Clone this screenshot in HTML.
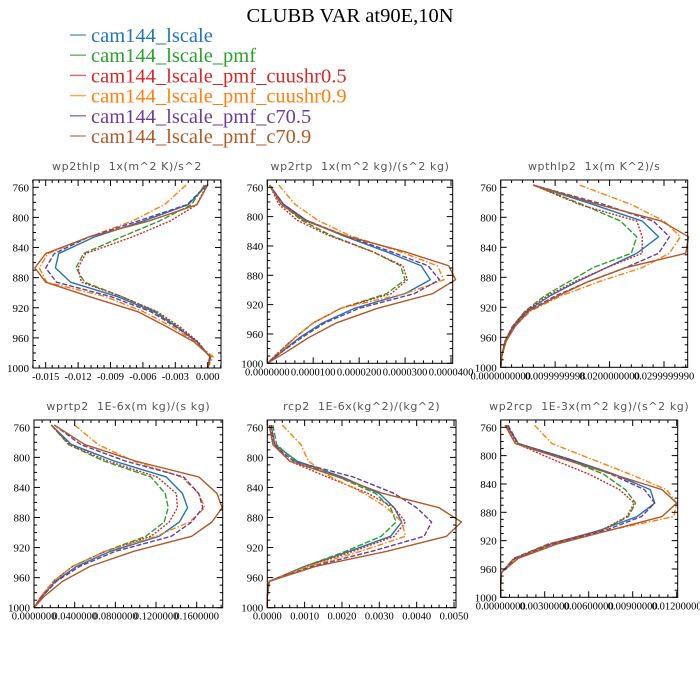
<!DOCTYPE html>
<html><head><meta charset="utf-8">
<style>
html,body{margin:0;padding:0;background:#fff;}
svg{display:block;}
</style></head>
<body>
<svg id="chart" width="700" height="700" viewBox="0 0 700 700" xmlns="http://www.w3.org/2000/svg">
<text x="350" y="22" text-anchor="middle" font-family="Liberation Serif, serif" font-size="20.5">CLUBB VAR at90E,10N</text>
<g id="legend"></g>
<g id="panels"></g>
</svg>
<script>
// ---- data ----
const seriesNames = ["cam144_lscale","cam144_lscale_pmf","cam144_lscale_pmf_cuushr0.5","cam144_lscale_pmf_cuushr0.9","cam144_lscale_pmf_c70.5","cam144_lscale_pmf_c70.9"];
const levels = [757,783,805,826,848,867,886,905,925,945,965,985,1000];

const wp2thlp = [ // x1e-3
 [-0.1,-1.8,-6,-10.5,-13.8,-14.1,-12.7,-8.4,-5.0,-2.9,-1.0,0.2,0],
 [-0.3,-1.5,-4.5,-8,-11.5,-12.2,-11.4,-8,-4.8,-2.8,-1.0,0.2,0],
 [-0.1,-1.0,-3.5,-7,-11.3,-12.0,-11.7,-8,-4.7,-2.6,-0.9,0.2,0],
 [-2.0,-4,-7,-11,-14.8,-15.6,-14.9,-9.5,-6,-3.3,-1.2,0.5,0],
 [-0.1,-1.9,-6.5,-11,-14.2,-15.0,-14.0,-9.0,-5.3,-3.0,-1.0,0.2,0],
 [0,-1.0,-5.5,-11,-15.0,-16.0,-15.0,-11,-6.5,-3.8,-1.3,0.3,0]];
const wp2rtp = [ // x1e-5
 [0.05,0.35,0.85,1.65,2.6,3.35,3.55,3.0,1.9,1.2,0.7,0.3,0],
 [0.05,0.3,0.75,1.4,2.3,2.9,3.0,2.6,1.6,1.0,0.6,0.25,0],
 [0.05,0.25,0.65,1.35,2.3,2.95,3.05,2.7,1.6,1.0,0.6,0.25,0],
 [0.25,0.6,1.1,1.8,2.9,3.7,3.85,3.0,1.6,1.0,0.6,0.3,0],
 [0.05,0.35,0.85,1.7,2.7,3.5,3.75,3.2,2.0,1.25,0.75,0.3,0],
 [0.05,0.3,0.8,1.7,3.0,3.95,4.1,3.6,2.4,1.5,0.9,0.4,0]];
const wpthlp2 = [ // x1e-2
 [0.6,1.7,2.6,2.9,2.5,1.95,1.4,0.9,0.48,0.23,0.08,0.02,0],
 [0.6,1.5,2.2,2.5,2.4,1.7,1.25,0.8,0.45,0.22,0.08,0.02,0],
 [0.6,1.45,2.5,2.6,2.6,1.95,1.35,0.85,0.46,0.22,0.08,0.02,0],
 [1.45,2.4,3.0,3.3,3.1,2.6,1.8,1.1,0.55,0.26,0.1,0.02,0],
 [0.6,1.9,2.8,3.1,2.9,2.3,1.6,1.0,0.5,0.25,0.09,0.02,0],
 [0.6,1.8,2.95,3.45,3.4,2.3,1.6,1.05,0.52,0.27,0.1,0.02,0]];
const wprtp2 = [ // x1e-2
 [1.7,3.7,7.9,13,14.6,15.1,14.3,12.3,7.5,4.2,2.1,0.8,0],
 [1.7,3.4,6.9,11.5,12.9,13.2,12.8,11.0,7.0,3.8,1.9,0.7,0],
 [1.7,3.5,7.3,12.1,14.0,14.1,13.3,11.5,7.0,3.8,1.9,0.7,0],
 [4.0,6.3,9.8,14.5,16.2,16.8,15.3,12.0,7.0,3.8,1.9,0.7,0],
 [2.0,4.6,9.0,14.7,16.2,16.6,15.5,13.5,8.0,4.5,2.2,0.8,0],
 [2.0,5.0,10.0,16.2,18.0,18.5,17.5,15.5,9.8,5.5,2.8,1.0,0]];
const rcp2 = [ // x1e-3
 [0.1,0.2,0.8,2.0,3.0,3.4,3.6,3.3,2.2,1.0,0.05,0,0],
 [0.15,0.25,0.75,1.9,2.9,3.3,3.45,3.05,2.1,1.0,0.05,0,0],
 [0.1,0.2,0.6,1.6,2.7,3.4,3.7,3.4,2.3,1.05,0.05,0,0],
 [0.4,0.9,1.1,1.7,2.6,3.2,3.6,3.7,2.5,1.1,0.05,0,0],
 [0.1,0.15,0.7,2.3,3.4,4.0,4.4,4.2,2.8,1.2,0.05,0,0],
 [0.05,0.15,0.6,1.9,3.1,4.6,5.2,4.8,3.2,1.3,0.05,0,0]];
const wp2rcp = [ // x1e-3
 [0.4,1.2,4.7,7.7,10.2,10.5,9.3,6.8,3.4,1.0,0.05,0,0],
 [0.4,1.2,4.5,7.0,8.5,9.2,8.7,7.0,3.2,0.9,0.05,0,0],
 [0.4,1.1,3.5,6.0,8.1,9.1,8.6,6.9,3.3,0.9,0.05,0,0],
 [2.3,3.5,6.2,8.8,11.3,12.0,11.8,7.5,3.5,1.0,0.05,0,0],
 [0.5,1.2,4.6,7.5,9.8,10.5,9.6,7.2,3.5,1.0,0.05,0,0],
 [0.3,1.0,4.3,7.6,11.0,12.0,11.0,7.5,3.8,1.2,0.05,0,0]];

const yTicks = [760,800,840,880,920,960,1000];
const ticks1 = ["-0.015","-0.012","-0.009","-0.006","-0.003","0.000"];
const ticks2 = ["0.0000000","0.0000100","0.0000200","0.0000300","0.0000400"];
const ticks3 = ["0.0000000000","0.0099999998","0.0200000000","0.0299999990"];
const ticks4 = ["0.0000000","0.0400000","0.0800000","0.1200000","0.1600000"];
const ticks5 = ["0.0000","0.0010","0.0020","0.0030","0.0040","0.0050"];
const ticks6 = ["0.00000000","0.00300000","0.00600000","0.00900000","0.01200000"];

// ---- styles / layout ----
const colors = ["#1f77b4","#2ca02c","#d62728","#ff7f0e","#6a3d9a","#b15928"];
const dashes = ["", "6,2", "2,1.5", "6,2,1.5,2", "5,2", ""];

const panels = [
 {id:"wp2thlp",title:"wp2thlp  1x(m^2 K)/s^2",data:wp2thlp,scale:1e-3,ticks:ticks1,tickVals:[-0.015,-0.012,-0.009,-0.006,-0.003,0],
  L:33,R:221,T:180,B:368,xa:-0.015,pa:45.7,xb:0,pb:207.7,y760:187.3},
 {id:"wp2rtp",title:"wp2rtp  1x(m^2 kg)/(s^2 kg)",data:wp2rtp,scale:1e-5,ticks:ticks2,tickVals:[0,1e-5,2e-5,3e-5,4e-5],
  L:267.3,R:452.7,T:180,B:363.3,xa:0,pa:267.3,xb:4e-5,pb:451,y760:187.3},
 {id:"wpthlp2",title:"wpthlp2  1x(m K^2)/s",data:wpthlp2,scale:1e-2,ticks:ticks3,tickVals:[0,0.01,0.02,0.03],
  L:500.7,R:687.7,T:180,B:367.3,xa:0,pa:500.7,xb:0.03,pb:664,y760:187.3},
 {id:"wprtp2",title:"wprtp2  1E-6x(m kg)/(s kg)",data:wprtp2,scale:1e-2,ticks:ticks4,tickVals:[0,0.04,0.08,0.12,0.16],
  L:34,R:222.7,T:420,B:607.7,xa:0,pa:34,xb:0.16,pb:196.7,y760:427.3},
 {id:"rcp2",title:"rcp2  1E-6x(kg^2)/(kg^2)",data:rcp2,scale:1e-3,ticks:ticks5,tickVals:[0,0.001,0.002,0.003,0.004,0.005],
  L:267.3,R:456,T:420,B:607.7,xa:0,pa:267.3,xb:0.005,pb:454,y760:427.3},
 {id:"wp2rcp",title:"wp2rcp  1E-3x(m^2 kg)/(s^2 kg)",data:wp2rcp,scale:1e-3,ticks:ticks6,tickVals:[0,0.003,0.006,0.009,0.012],
  L:500.7,R:677.7,T:420,B:597.3,xa:0,pa:500.7,xb:0.012,pb:676.7,y760:427.3}
];

const NS="http://www.w3.org/2000/svg";
function mk(tag,attrs,parent){const e=document.createElementNS(NS,tag);for(const k in attrs)e.setAttribute(k,attrs[k]);parent.appendChild(e);return e;}

// legend
const lg=document.getElementById("legend");
seriesNames.forEach((n,i)=>{
  const y=35+i*20.2;
  const ln=mk("line",{x1:70,x2:86,y1:y,y2:y,stroke:colors[i],"stroke-width":1.5,opacity:0.7},lg);
  
  
  const t=mk("text",{x:91,y:y+7,fill:colors[i],"font-family":"Liberation Serif, serif","font-size":20.5},lg);
  
  
  t.textContent=n;
});

const root=document.getElementById("panels");
panels.forEach(p=>{
  const g=mk("g",{},root);
  
  
  const xs=v=>p.pa+(v-p.xa)*(p.pb-p.pa)/(p.xb-p.xa);
  const ys=pr=>p.y760+(pr-760)*(p.B-p.y760)/240;
  // title
  const tt=mk("text",{x:(p.L+p.R)/2,y:p.T-10,"text-anchor":"middle",fill:"#555","font-family":"DejaVu Sans, sans-serif","font-size":11,"letter-spacing":"0.6"},g);
  
  
  tt.setAttribute('xml:space','preserve');
  tt.style.whiteSpace='pre';
  tt.textContent=p.title;
  // series
  p.data.forEach((vals,si)=>{
    const pts=vals.map((v,k)=>xs(v*p.scale).toFixed(2)+","+ys(levels[k]).toFixed(2)).join(" ");
    const pl=mk("polyline",{points:pts,fill:"none",stroke:colors[si],"stroke-width":1.4,"stroke-linejoin":"round"},g);
    if(dashes[si])pl.setAttribute("stroke-dasharray",dashes[si]);
    
    
  });
  // frame
  const fr=mk("rect",{x:p.L,y:p.T,width:p.R-p.L,height:p.B-p.T,fill:"none",stroke:"#000","stroke-width":1},g);
  
  
  // y ticks
  for(let pr=760;pr<=1000;pr+=10){
    const y=ys(pr);const maj=yTicks.includes(pr);const len=maj?6:3;
    mk("line",{x1:p.L,x2:p.L+len,y1:y,y2:y,stroke:"#000","stroke-width":1},g);
    mk("line",{x1:p.R,x2:p.R-len,y1:y,y2:y,stroke:"#000","stroke-width":1},g);
  }
  yTicks.forEach(pr=>{
    const t=mk("text",{x:p.L-4,y:ys(pr)+4,"text-anchor":"end","font-family":"Liberation Serif, serif","font-size":11},g);
    
    
    t.textContent=pr;
  });
  // x ticks
  const step=(p.tickVals[1]-p.tickVals[0])/5;
  for(let v=p.tickVals[0]-5*step;v<=p.tickVals[p.tickVals.length-1]+5*step+1e-12;v+=step){
    const x=xs(v);if(x<p.L-0.5||x>p.R+0.5)continue;
    const idx=Math.round((v-p.tickVals[0])/step);const maj=idx%5===0;const len=maj?6:3;
    mk("line",{x1:x,x2:x,y1:p.B,y2:p.B-len,stroke:"#000","stroke-width":1},g);
    mk("line",{x1:x,x2:x,y1:p.T,y2:p.T+len,stroke:"#000","stroke-width":1},g);
  }
  p.tickVals.forEach((v,i)=>{
    const t=mk("text",{x:xs(v),y:p.B+12,"text-anchor":"middle","font-family":"Liberation Serif, serif","font-size":10.5},g);
    
    
    t.textContent=p.ticks[i];
  });
});
</script>
</body></html>
